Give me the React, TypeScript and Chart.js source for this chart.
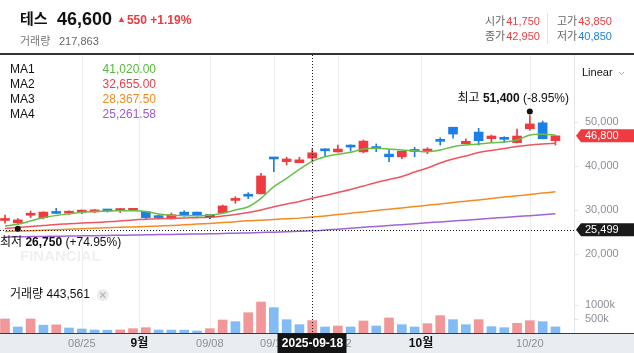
import React, { useEffect, useRef } from 'react';
import { Chart, registerables } from 'chart.js';

Chart.register(...registerables);

// ---------- data ----------
const dates = [
  '2025-08-14', '2025-08-18', '2025-08-19', '2025-08-20', '2025-08-21', '2025-08-22',
  '2025-08-25', '2025-08-26', '2025-08-27', '2025-08-28', '2025-08-29',
  '2025-09-01', '2025-09-02', '2025-09-03', '2025-09-04', '2025-09-05',
  '2025-09-08', '2025-09-09', '2025-09-10', '2025-09-11', '2025-09-12',
  '2025-09-15', '2025-09-16', '2025-09-17', '2025-09-18', '2025-09-19',
  '2025-09-22', '2025-09-23', '2025-09-24', '2025-09-25', '2025-09-26',
  '2025-09-29', '2025-09-30', '2025-10-01', '2025-10-02', '2025-10-10',
  '2025-10-13', '2025-10-14', '2025-10-15', '2025-10-16', '2025-10-17',
  '2025-10-20', '2025-10-21', '2025-10-22',
];
const opens = [27600, 27050, 28800, 28250, 29300, 29250, 29500, 29550, 29950, 29850, 29900, 29600, 28600, 27950, 29500, 29500, 28450, 29350, 32150, 33200, 33650, 41750, 40950, 40700, 41750, 43850, 43150, 44700, 43150, 44050, 42650, 42050, 43400, 43350, 45650, 48750, 45000, 47650, 46150, 46100, 45250, 48400, 49750, 45700];
const highs = [28800, 28050, 29750, 29600, 30350, 29800, 30000, 30100, 30100, 30350, 30200, 29700, 28850, 29300, 29800, 29500, 28750, 31100, 33000, 33900, 38300, 41750, 41950, 41950, 43850, 43850, 44700, 44750, 45850, 44950, 43750, 43350, 44200, 44100, 46350, 48750, 46100, 48500, 46950, 46600, 48350, 51400, 50150, 46800];
const lows = [27000, 26750, 28250, 27950, 29150, 29000, 29150, 29400, 29500, 29400, 29800, 27950, 27950, 27900, 28550, 28550, 28000, 29350, 31500, 32550, 33650, 38650, 40200, 40700, 40850, 42050, 43100, 43350, 42950, 43200, 40950, 41600, 42050, 42750, 44700, 46250, 44950, 44700, 45450, 45250, 45200, 48100, 46100, 44700];
const closes = [27700, 27750, 28900, 29500, 29200, 29300, 29950, 29950, 29750, 29950, 30000, 28250, 28250, 28900, 28750, 28850, 28450, 30900, 32250, 33100, 37700, 41550, 41550, 41350, 42950, 43400, 43800, 44250, 45600, 43900, 42050, 43300, 43250, 43450, 45550, 47200, 45550, 45700, 46750, 46000, 46750, 49500, 46150, 46800];
const volumes = [500000, 214000, 500000, 280000, 290000, 179000, 143000, 107000, 100000, 110000, 155000, 190000, 107000, 105000, 103000, 71000, 155000, 464000, 405000, 726000, 1107000, 905000, 476000, 298000, 443561, 214000, 250000, 214000, 429000, 250000, 536000, 298000, 214000, 333000, 619000, 476000, 298000, 476000, 226000, 190000, 345000, 440000, 405000, 217863];

const ma1 = [26340, 26730, 27480, 28230, 28730, 29110, 29450, 29630, 29750, 29815, 29800, 29630, 29070, 28770, 28700, 28680, 28770, 29225, 29975, 30720, 32630, 35260, 37160, 39200, 41020, 42060, 42610, 43060, 43810, 43970, 43810, 43580, 43420, 43200, 43580, 44330, 44720, 44940, 45240, 45400, 45850, 46980, 47140, 46980];
const ma2 = [25780, 26005, 26230, 26460, 26685, 26845, 27025, 27160, 27300, 27480, 27705, 27865, 27980, 28090, 28160, 28230, 28340, 28610, 28950, 29405, 29975, 30720, 31335, 31900, 32655, 33260, 33940, 34620, 35420, 36210, 36890, 37570, 38590, 39500, 40630, 41540, 42220, 43015, 43470, 43920, 44375, 44715, 44940, 45100];
const ma3 = [25100, 25190, 25280, 25390, 25480, 25600, 25710, 25820, 25940, 26050, 26140, 26230, 26345, 26480, 26615, 26775, 26935, 27115, 27340, 27525, 27640, 27820, 28000, 28135, 28367.5, 28635, 28930, 29225, 29545, 29860, 30155, 30450, 30745, 31060, 31355, 31675, 31970, 32265, 32580, 32900, 33195, 33490, 33805, 34100];
const ma4 = [23850, 23895, 23940, 23985, 24030, 24075, 24120, 24165, 24210, 24255, 24300, 24350, 24395, 24440, 24485, 24530, 24575, 24645, 24710, 24780, 24870, 24960, 25050, 25145, 25261.58, 25440, 25640, 25845, 26050, 26255, 26460, 26660, 26865, 27070, 27275, 27480, 27680, 27885, 28090, 28295, 28500, 28700, 28905, 29110];

const maLabels = ['MA1', 'MA2', 'MA3', 'MA4'];
const maLegendValues = ['41,020.00', '32,655.00', '28,367.50', '25,261.58'];

const priceTicks = [20000, 30000, 40000, 50000];
const volumeTicks = [500000, 1000000];
const volumeTickLabels = ['500k', '1000k'];

// x-axis labels (index positions; .5 = month boundary)
const axisLabelIdx = [6, 10.5, 16, 21, 26, 32.5, 41];
const axisLabelText = ['08/25', '9월', '09/08', '09/15', '09/22', '10월', '10/20'];
const axisLabelBold = [false, true, false, false, false, true, false];

const crossIndex = 24;
const crossValue = 25499;
const crossDateText = '2025-09-18';
const crossVolumeText = '거래량 443,561';

const headerName = '테스';
const headerPrice = '46,600';
const headerChange = '550 +1.19%';
const headerVolLabel = '거래량';
const headerVol = '217,863';
const ohlcLabels = ['시가', '고가', '종가', '저가'];
const ohlcValues = ['41,750', '43,850', '42,950', '40,850'];

// ---------- styles ----------
const FONT = '"Liberation Sans", "Noto Sans CJK KR", Arial, sans-serif';
const RED = '#ef3a40';
const BLUE = '#1b7fe9';
const DOJI = '#333333';
const MA_COLORS = ['#66bf48', '#ee5560', '#f28c22', '#a064d6'];
const MA_TEXT_COLORS = ['#55b83a', '#e8414b', '#f08a1d', '#9b5ad0'];
const VOL_RED = 'rgba(240,140,142,0.9)';
const VOL_BLUE = 'rgba(120,182,244,0.92)';

const idx = dates.map((_, i) => i);
const candleColors = idx.map((i) => (closes[i] > opens[i] ? RED : closes[i] < opens[i] ? BLUE : DOJI));
const volColors = idx.map((i) => (i === 0 || volumes[i] >= volumes[i - 1] ? VOL_RED : VOL_BLUE));
const fmt = (v: number) => v.toLocaleString('en-US');

function line(ctx: CanvasRenderingContext2D, x1: number, y1: number, x2: number, y2: number) {
  ctx.beginPath();
  ctx.moveTo(x1, y1);
  ctx.lineTo(x2, y2);
  ctx.stroke();
}
function txt(ctx: CanvasRenderingContext2D, s: string, x: number, y: number, font: string, color: string, align: CanvasTextAlign = 'left') {
  ctx.font = font;
  ctx.fillStyle = color;
  ctx.textAlign = align;
  ctx.textBaseline = 'middle';
  ctx.fillText(s, x, y);
  return ctx.measureText(s).width;
}
function priceBox(ctx: CanvasRenderingContext2D, left: number, cy: number, right: number, color: string, label: string) {
  ctx.fillStyle = color;
  ctx.beginPath();
  ctx.moveTo(left, cy);
  ctx.lineTo(left + 5, cy - 6.5);
  ctx.lineTo(right, cy - 6.5);
  ctx.lineTo(right, cy + 6.5);
  ctx.lineTo(left + 5, cy + 6.5);
  ctx.closePath();
  ctx.fill();
  txt(ctx, label, left + 9, cy + 0.5, `11px ${FONT}`, '#fff');
}

const overlayPlugin = {
  id: 'overlay',
  beforeDatasetsDraw(chart: any) {
    const { ctx, chartArea: a, scales } = chart;
    const xs = scales.x;
    ctx.save();
    txt(ctx, 'FINANCIAL', 20, 257, `bold 15px ${FONT}`, '#eef0f2');
    ctx.strokeStyle = '#eceef1';
    ctx.lineWidth = 1;
    axisLabelIdx.forEach((g) => {
      const px = Math.round(xs.getPixelForValue(g)) + 0.5;
      line(ctx, px, a.top, px, a.bottom);
    });
    ctx.restore();
  },
  afterDraw(chart: any) {
    const { ctx, chartArea: a, scales } = chart;
    const xs = scales.x;
    const ys = scales.y;
    const yv = scales.yv;
    const W = chart.width;
    const H = chart.height;
    ctx.save();

    // right axis line + ticks
    ctx.strokeStyle = '#e2e4e8';
    ctx.lineWidth = 1;
    line(ctx, a.right + 0.5, a.top, a.right + 0.5, a.bottom);
    priceTicks.forEach((v) => {
      const py = ys.getPixelForValue(v);
      ctx.strokeStyle = '#e2e4e8';
      line(ctx, a.right, Math.round(py) + 0.5, a.right + 4, Math.round(py) + 0.5);
      txt(ctx, fmt(v), a.right + 11, py, `11px ${FONT}`, '#8a9099');
    });
    volumeTicks.forEach((v, i) => {
      const py = yv.getPixelForValue(v);
      line(ctx, a.right, Math.round(py) + 0.5, a.right + 4, Math.round(py) + 0.5);
      txt(ctx, volumeTickLabels[i], a.right + 11, py, `11px ${FONT}`, '#8a9099');
    });

    // crosshair
    ctx.strokeStyle = '#1a1a1a';
    ctx.setLineDash([1, 2]);
    const cx = Math.round(xs.getPixelForValue(crossIndex)) + 0.5;
    line(ctx, cx, a.top, cx, a.bottom);
    const cy = Math.round(ys.getPixelForValue(crossValue)) + 0.5;
    line(ctx, a.left, cy, a.right, cy);
    ctx.setLineDash([]);

    // high / low annotations
    const last = closes[closes.length - 1];
    let hi = 0;
    let lo = 0;
    highs.forEach((v, i) => { if (v > highs[hi]) hi = i; });
    lows.forEach((v, i) => { if (v < lows[lo]) lo = i; });
    const hx = xs.getPixelForValue(hi);
    const hy = ys.getPixelForValue(highs[hi]) - 4;
    const lx = xs.getPixelForValue(lo);
    const ly = ys.getPixelForValue(lows[lo]) + 4.5;
    ctx.fillStyle = '#111';
    ctx.beginPath(); ctx.arc(hx, hy, 3, 0, Math.PI * 2); ctx.fill();
    ctx.beginPath(); ctx.arc(lx, ly, 3, 0, Math.PI * 2); ctx.fill();

    const annot = (label: string, val: number, x: number, y: number) => {
      const pct = ((last / val - 1) * 100);
      const pctText = ` (${pct >= 0 ? '+' : ''}${pct.toFixed(2)}%)`;
      const f1 = `12px ${FONT}`;
      const f2 = `bold 12px ${FONT}`;
      ctx.font = f1; const w1 = ctx.measureText(label + ' ').width;
      ctx.font = f2; const w2 = ctx.measureText(fmt(val)).width;
      ctx.font = f1; const w3 = ctx.measureText(pctText).width;
      const w = w1 + w2 + w3;
      let left = x - w / 2;
      left = Math.max(a.left, Math.min(left, a.right - w - 5));
      txt(ctx, label + ' ', left, y, f1, '#111');
      txt(ctx, fmt(val), left + w1, y, f2, '#111');
      txt(ctx, pctText, left + w1 + w2, y, f1, '#111');
    };
    annot('최고', highs[hi], hx, hy - 13);
    annot('최저', lows[lo], lx, ly + 14);

    // price boxes on axis
    priceBox(ctx, a.right + 2, ys.getPixelForValue(last), W, RED, fmt(last));
    priceBox(ctx, a.right + 2, ys.getPixelForValue(crossValue), W, '#1a1a1a', fmt(crossValue));

    // bottom band
    ctx.fillStyle = '#e9ecf0';
    ctx.fillRect(0, a.bottom, W, H - a.bottom);
    ctx.fillStyle = '#3a3a3a';
    ctx.fillRect(0, a.bottom, W, 1);
    axisLabelIdx.forEach((g, i) => {
      const px = xs.getPixelForValue(g);
      txt(ctx, axisLabelText[i], px, 343.5, axisLabelBold[i] ? `bold 12px ${FONT}` : `11px ${FONT}`, axisLabelBold[i] ? '#111' : '#8a9099', 'center');
    });
    ctx.fillStyle = '#141414';
    ctx.fillRect(cx - 35, a.bottom, 69, H - a.bottom);
    txt(ctx, crossDateText, cx, 343.5, `bold 12px ${FONT}`, '#fff', 'center');

    // volume caption
    const vw = txt(ctx, crossVolumeText, 10, 295, `12px ${FONT}`, '#111');
    ctx.fillStyle = '#ececec';
    ctx.beginPath(); ctx.arc(10 + vw + 13, 295, 6, 0, Math.PI * 2); ctx.fill();
    ctx.strokeStyle = '#b8b8b8';
    ctx.lineWidth = 1.2;
    const ix = 10 + vw + 13;
    line(ctx, ix - 2.5, 292.5, ix + 2.5, 297.5);
    line(ctx, ix + 2.5, 292.5, ix - 2.5, 297.5);
    ctx.lineWidth = 1;

    // MA legend
    maLabels.forEach((l, i) => {
      const y = 70 + i * 15;
      txt(ctx, l, 10, y, `12px ${FONT}`, '#111');
      txt(ctx, maLegendValues[i], 156, y, `12px ${FONT}`, MA_TEXT_COLORS[i], 'right');
    });

    // Linear selector
    txt(ctx, 'Linear', 582, 73, `11px ${FONT}`, '#111');
    ctx.strokeStyle = '#aab0b8';
    ctx.beginPath();
    ctx.moveTo(619, 72); ctx.lineTo(621.5, 74.5); ctx.lineTo(624, 72);
    ctx.stroke();

    // header
    ctx.fillStyle = '#333';
    ctx.fillRect(0, 53, W, 2);
    txt(ctx, headerName, 20, 20, `bold 15px ${FONT}`, '#111');
    txt(ctx, headerPrice, 57, 20.5, `bold 18px ${FONT}`, '#111');
    const tw = txt(ctx, '▲', 117, 20, `9px ${FONT}`, RED);
    txt(ctx, headerChange, 117 + tw + 1, 20.5, `bold 12px ${FONT}`, RED);
    txt(ctx, headerVolLabel, 20, 42, `11px ${FONT}`, '#777');
    txt(ctx, headerVol, 59, 42, `11px ${FONT}`, '#666');

    const cols = [485, 557];
    const rows = [22, 37];
    ohlcLabels.forEach((l, i) => {
      const x = cols[i % 2];
      const y = rows[Math.floor(i / 2)];
      const w = txt(ctx, l, x, y, `11px ${FONT}`, '#666');
      txt(ctx, ohlcValues[i], x + w + 1, y, `11px ${FONT}`, i === 3 ? BLUE : RED);
    });
    ctx.strokeStyle = '#e4e4e4';
    line(ctx, 547.5, 13, 547.5, 44);

    ctx.restore();
  },
};

export default function App() {
  const ref = useRef<HTMLCanvasElement>(null);
  useEffect(() => {
    document.body.style.margin = '0';
    const lineDs = [ma1, ma2, ma3, ma4].map((arr, k) => ({
      type: 'line' as const,
      data: arr.map((v, i) => ({ x: i, y: v })),
      borderColor: MA_COLORS[k],
      borderWidth: 1.5,
      pointRadius: 0,
      tension: 0.35,
      yAxisID: 'y',
      order: k,
    }));
    const chart = new Chart(ref.current as HTMLCanvasElement, {
      type: 'bar',
      data: {
        datasets: [
          ...lineDs,
          {
            type: 'bar',
            data: idx.map((i) => ({ x: i, y: [opens[i], closes[i]] })) as any,
            backgroundColor: candleColors,
            barThickness: 9,
            minBarLength: 2,
            grouped: false,
            yAxisID: 'y',
            order: 10,
          },
          {
            type: 'bar',
            data: idx.map((i) => ({ x: i, y: [lows[i], highs[i]] })) as any,
            backgroundColor: candleColors,
            barThickness: 1,
            grouped: false,
            yAxisID: 'y',
            order: 11,
          },
          {
            type: 'bar',
            data: idx.map((i) => ({ x: i, y: volumes[i] })) as any,
            backgroundColor: volColors,
            barThickness: 9,
            grouped: false,
            yAxisID: 'yv',
            order: 12,
          },
        ] as any,
      },
      options: {
        responsive: false,
        devicePixelRatio: 1,
        animation: false,
        layout: { padding: { left: 0, right: 60, top: 55, bottom: 20 } },
        plugins: { legend: { display: false }, tooltip: { enabled: false } },
        scales: {
          x: { type: 'linear', min: -0.39, max: 44.45, offset: false, display: false },
          y: { type: 'linear', min: 2086, max: 65125, display: false },
          yv: { type: 'linear', min: 0, max: 9928571, display: false },
        },
      } as any,
      plugins: [overlayPlugin],
    });
    return () => chart.destroy();
  }, []);
  return (
    <div style={{ position: 'absolute', left: 0, top: 0, width: 634, height: 353, background: '#fff', overflow: 'hidden' }}>
      <canvas ref={ref} width={634} height={353} style={{ width: 634, height: 353, display: 'block' }} />
    </div>
  );
}
